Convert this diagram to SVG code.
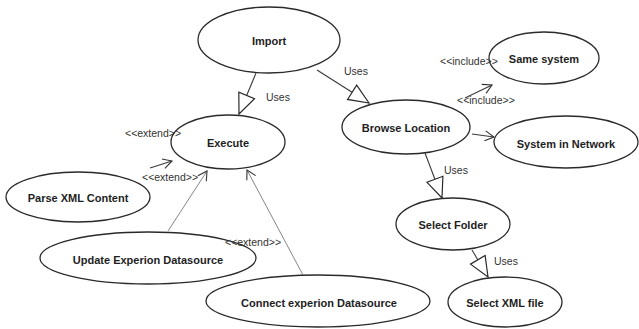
<svg xmlns="http://www.w3.org/2000/svg" width="639" height="329" viewBox="0 0 639 329">
  <style>
    .uc ellipse { fill: #ffffff; stroke: #2a2a2a; stroke-width: 1.3; }
    .uc text { font-family: "Liberation Sans", Arial, sans-serif; font-size: 11px; font-weight: bold; fill: #1e1e1e; text-anchor: middle; }
    .edge { stroke: #3a3a3a; stroke-width: 1.1; fill: none; }
    .thin { stroke: #777; stroke-width: 0.9; }
    .lbl { font-family: "Liberation Sans", Arial, sans-serif; font-size: 10.5px; fill: #333; }
  </style>
  <defs>
    <!-- hollow triangle head for "Uses" relations -->
    <marker id="tri" viewBox="-22 -10 23 20" refX="0" refY="0" markerWidth="23" markerHeight="20" markerUnits="userSpaceOnUse" orient="auto">
      <path d="M0,0 L-20,-8.5 L-20,8.5 Z" fill="#fff" stroke="#2a2a2a" stroke-width="1.2"/>
    </marker>
    <!-- open arrowhead for extend / include -->
    <marker id="open" viewBox="-11 -7 12 14" refX="0" refY="0" markerWidth="12" markerHeight="14" markerUnits="userSpaceOnUse" orient="auto">
      <path d="M-9,-5 L0,0 L-9,5" fill="none" stroke="#333" stroke-width="1.1"/>
    </marker>
  </defs>

  <g id="import" class="uc">
    <ellipse cx="269" cy="40" rx="71" ry="33"/>
    <text x="269" y="45">Import</text>
  </g>
  <g id="execute" class="uc">
    <ellipse cx="228" cy="142" rx="57" ry="27"/>
    <text x="228" y="147">Execute</text>
  </g>
  <g id="parse-xml" class="uc">
    <ellipse cx="78" cy="197" rx="72" ry="25"/>
    <text x="78" y="202">Parse XML Content</text>
  </g>
  <g id="update-datasource" class="uc">
    <ellipse cx="148" cy="258" rx="108" ry="26"/>
    <text x="148" y="264">Update Experion Datasource</text>
  </g>
  <g id="connect-datasource" class="uc">
    <ellipse cx="318" cy="301" rx="112" ry="26"/>
    <text x="319" y="307">Connect experion Datasource</text>
  </g>
  <g id="browse-location" class="uc">
    <ellipse cx="406" cy="127" rx="64" ry="27"/>
    <text x="406" y="132">Browse Location</text>
  </g>
  <g id="same-system" class="uc">
    <ellipse cx="544" cy="58" rx="55" ry="26"/>
    <text x="544" y="63">Same system</text>
  </g>
  <g id="system-network" class="uc">
    <ellipse cx="566" cy="142" rx="72" ry="26"/>
    <text x="566" y="148">System in Network</text>
  </g>
  <g id="select-folder" class="uc">
    <ellipse cx="453" cy="224" rx="57" ry="26"/>
    <text x="453" y="229">Select Folder</text>
  </g>
  <g id="select-xml" class="uc">
    <ellipse cx="505" cy="302" rx="57" ry="25"/>
    <text x="505" y="307">Select XML file</text>
  </g>

  <!-- relations drawn on top so their labels stay readable over node outlines -->
  <g id="connectors">
    <line class="edge" x1="256" y1="73" x2="239" y2="114" marker-end="url(#tri)"/>
    <line class="edge" x1="317" y1="70" x2="369" y2="103" marker-end="url(#tri)"/>
    <line class="edge" x1="425" y1="153" x2="442" y2="198" marker-end="url(#tri)"/>
    <line class="edge" x1="472" y1="250" x2="488" y2="277" marker-end="url(#tri)"/>

    <line class="edge" x1="150" y1="168" x2="172" y2="161" marker-end="url(#open)"/>
    <line class="edge thin" x1="168" y1="231" x2="207" y2="171" marker-end="url(#open)"/>
    <line class="edge thin" x1="303" y1="275" x2="247" y2="170" marker-end="url(#open)"/>
    <line class="edge" x1="465" y1="98" x2="492" y2="85" marker-end="url(#open)"/>
    <line class="edge" x1="472" y1="134" x2="494" y2="137" marker-end="url(#open)"/>

    <text class="lbl" x="266" y="101">Uses</text>
    <text class="lbl" x="344" y="75">Uses</text>
    <text class="lbl" x="444" y="174">Uses</text>
    <text class="lbl" x="494" y="265">Uses</text>
    <text class="lbl" x="125" y="137">&lt;&lt;extend&gt;&gt;</text>
    <text class="lbl" x="142" y="181">&lt;&lt;extend&gt;&gt;</text>
    <text class="lbl" x="225" y="246">&lt;&lt;extend&gt;&gt;</text>
    <text class="lbl" x="440" y="65">&lt;&lt;include&gt;&gt;</text>
    <text class="lbl" x="457" y="104">&lt;&lt;include&gt;&gt;</text>
  </g>
</svg>
